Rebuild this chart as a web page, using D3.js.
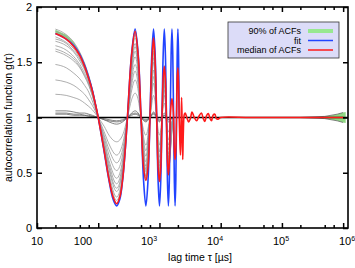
<!DOCTYPE html>
<html>
<head>
<meta charset="utf-8">
<script src="https://cdn.jsdelivr.net/npm/d3@7"></script>
<style>
  body { margin: 0; background: #fff; }
  text { font-family: "Liberation Sans", Arial, sans-serif; }
</style>
</head>
<body>
<div id="chart"></div>
<script>
// lag times (µs) at which the single ACFs are sampled
var lags = [20, 30, 40, 50, 60, 70, 80, 100, 125, 150, 200, 250, 300, 350, 400, 450, 500, 600, 700, 800, 1000, 1200, 1400, 1700, 2200];

// single ACFs (grey), one row per measurement
var acfs = [
  [1.80, 1.75, 1.68, 1.59, 1.49, 1.38, 1.26, 1.00, 0.70, 0.45, 0.22, 0.45, 1.00, 1.55, 1.78, 1.55, 1.00, 0.43, 1.00, 1.70, 0.42, 1.47, 0.53, 1.00, 1.00],
  [1.78, 1.73, 1.66, 1.58, 1.48, 1.37, 1.25, 1.00, 0.71, 0.47, 0.25, 0.47, 1.00, 1.53, 1.75, 1.53, 1.00, 0.45, 1.00, 1.68, 0.45, 1.45, 0.55, 1.00, 1.00],
  [1.73, 1.68, 1.62, 1.54, 1.45, 1.35, 1.24, 1.00, 0.72, 0.49, 0.28, 0.49, 1.00, 1.51, 1.72, 1.51, 1.00, 0.47, 1.00, 1.65, 0.47, 1.43, 0.57, 1.00, 1.00],
  [1.71, 1.67, 1.60, 1.53, 1.44, 1.34, 1.23, 1.00, 0.74, 0.53, 0.33, 0.53, 1.00, 1.47, 1.67, 1.47, 1.00, 0.51, 1.00, 1.60, 0.50, 1.40, 0.60, 1.00, 1.00],
  [1.69, 1.65, 1.59, 1.51, 1.43, 1.33, 1.22, 1.00, 0.75, 0.55, 0.36, 0.55, 1.00, 1.45, 1.64, 1.45, 1.00, 0.53, 1.00, 1.58, 0.53, 1.38, 0.62, 1.00, 1.00],
  [1.65, 1.61, 1.55, 1.48, 1.40, 1.31, 1.21, 1.00, 0.77, 0.58, 0.40, 0.58, 1.00, 1.42, 1.60, 1.42, 1.00, 0.56, 1.00, 1.54, 0.56, 1.36, 0.64, 1.00, 1.00],
  [1.62, 1.58, 1.53, 1.46, 1.38, 1.30, 1.20, 1.00, 0.79, 0.61, 0.45, 0.61, 1.00, 1.39, 1.55, 1.39, 1.00, 0.60, 1.00, 1.50, 0.59, 1.33, 0.67, 1.00, 1.00],
  [1.60, 1.56, 1.51, 1.45, 1.37, 1.29, 1.20, 1.00, 0.82, 0.66, 0.52, 0.66, 1.00, 1.34, 1.48, 1.34, 1.00, 0.65, 1.00, 1.43, 0.64, 1.29, 0.71, 1.00, 1.00],
  [1.48, 1.45, 1.40, 1.35, 1.29, 1.23, 1.15, 1.00, 0.84, 0.71, 0.59, 0.71, 1.00, 1.29, 1.42, 1.29, 1.00, 0.70, 1.00, 1.37, 0.69, 1.25, 0.75, 1.00, 1.00],
  [1.34, 1.32, 1.29, 1.25, 1.21, 1.16, 1.11, 1.00, 0.87, 0.76, 0.66, 0.76, 1.00, 1.24, 1.34, 1.24, 1.00, 0.75, 1.00, 1.31, 0.75, 1.20, 0.80, 1.00, 1.00],
  [1.21, 1.20, 1.18, 1.16, 1.13, 1.10, 1.07, 1.00, 0.92, 0.84, 0.78, 0.84, 1.00, 1.16, 1.22, 1.16, 1.00, 0.84, 1.00, 1.20, 0.84, 1.13, 0.87, 1.00, 1.00],
  [1.06, 1.06, 1.05, 1.04, 1.04, 1.03, 1.02, 1.00, 0.98, 0.96, 0.94, 0.96, 1.00, 1.04, 1.06, 1.04, 1.00, 0.96, 1.00, 1.05, 0.96, 1.04, 0.96, 1.00, 1.00],
  [1.04, 1.04, 1.03, 1.03, 1.02, 1.02, 1.01, 1.00, 0.98, 0.97, 0.96, 0.97, 1.00, 1.03, 1.04, 1.03, 1.00, 0.97, 1.00, 1.04, 0.97, 1.02, 0.98, 1.00, 1.00],
  [1.03, 1.03, 1.02, 1.02, 1.02, 1.01, 1.01, 1.00, 0.99, 0.98, 0.97, 0.98, 1.00, 1.02, 1.03, 1.02, 1.00, 0.98, 1.00, 1.03, 0.98, 1.02, 0.98, 1.00, 1.00]
];

// noisy tails of the ACFs at very long lag times
var tailTau = [200000, 500000, 800000, 1000000];
var tailHi = [1.00, 1.01, 1.03, 1.045];
var tailLo = [1.00, 0.99, 0.97, 0.955];

// fit
var fitTau = [20, 30, 40, 50, 60, 70, 80, 90, 100, 125, 150, 175, 200, 225, 250, 275, 300,
  350, 400, 450, 500, 550, 600, 650, 700, 750, 800, 850, 900, 950, 1000, 1050, 1100,
  1150, 1200, 1250, 1300, 1350, 1400, 1450, 1500, 1550, 1600, 1650, 1700, 1750, 1800, 1850, 1900,
  1950, 2000, 2050, 2100];
var fitG = [1.76, 1.71, 1.65, 1.57, 1.47, 1.36, 1.25, 1.12, 1.00, 0.69, 0.43, 0.26, 0.20, 0.26, 0.43, 0.69, 1.00,
  1.57, 1.80, 1.57, 1.00, 0.43, 0.20, 0.43, 1.00, 1.57, 1.80, 1.57, 1.00, 0.43, 0.20, 0.43, 1.00,
  1.57, 1.80, 1.57, 1.00, 0.43, 0.20, 0.43, 1.00, 1.57, 1.80, 1.57, 1.00, 0.43, 0.20, 0.43, 1.00,
  1.57, 1.80, 1.57, 1.00];

// median of the ACFs
var medTau = [20, 30, 40, 50, 60, 70, 80, 90, 100, 125, 150, 175, 200, 225, 250, 275, 300,
  350, 400, 450, 500, 550, 600, 650, 700, 750, 800, 850, 900, 950, 1000, 1050, 1100,
  1150, 1200, 1250, 1300, 1350, 1400, 1450, 1500, 1550, 1600, 1650, 1700, 1750, 1800, 1850, 1900,
  1950, 2000, 2050, 2100, 2150, 2200, 2250, 2300, 2350, 2400, 2450,
  2550, 2630, 2800, 3000, 3200, 3400, 3700, 4050, 4400, 4840, 5200, 5520, 5900, 6280, 6700, 7080,
  7500, 8030, 8500, 9050, 10000, 30000, 100000, 300000, 1000000];
var medG = [1.76, 1.71, 1.64, 1.56, 1.46, 1.35, 1.24, 1.12, 1.00, 0.70, 0.44, 0.28, 0.22, 0.28, 0.44, 0.70, 1.00,
  1.56, 1.78, 1.55, 1.00, 0.55, 0.43, 0.55, 1.00, 1.50, 1.72, 1.50, 1.00, 0.55, 0.42, 0.55, 1.00,
  1.35, 1.46, 1.35, 1.00, 0.60, 0.48, 0.60, 1.00, 1.12, 1.17, 1.12, 1.00, 0.70, 0.62, 0.70, 1.00,
  1.35, 1.45, 1.30, 1.00, 0.80, 0.66, 0.90, 1.18, 0.90, 0.62, 0.85,
  1.03, 1.04, 1.00, 0.96, 0.99, 1.05, 1.00, 0.97, 1.01, 1.04, 0.99, 0.965, 1.02, 1.035, 0.99, 0.97,
  1.02, 1.03, 0.99, 0.985, 1.00, 1.00, 1.00, 1.00, 1.00];

// 90% band of the ACFs
var bandTau = [20, 30, 40, 50, 60, 70, 80, 90, 100, 200000, 400000, 600000, 800000, 1000000, 1100000];
var bandLo = [1.765, 1.72, 1.655, 1.57, 1.47, 1.36, 1.245, 1.12, 1.00, 1.00, 0.995, 0.985, 0.97, 0.955, 0.95];
var bandHi = [1.795, 1.75, 1.68, 1.59, 1.49, 1.38, 1.26, 1.13, 1.00, 1.00, 1.005, 1.015, 1.03, 1.045, 1.05];

var xMajor = [10, 100, 1e3, 1e4, 1e5, 1e6];
var xMinorFactors = [2, 5, 7];
var yTicks = [0, 0.5, 1, 1.5, 2];
var legendLabels = ["90% of ACFs", "fit", "median of ACFs"];
var legendColors = ["#98e890", "#2244ff", "#ff1a1a"];

var width = 355, height = 268;
var svg = d3.select("#chart").append("svg")
  .attr("width", width).attr("height", height);

var x = d3.scaleLog().domain([10, 1.2e6]).range([37, 348]);
var y = d3.scaleLinear().domain([0, 2]).range([228, 7]);
// tick labels sit a bit left of their ticks in the original
var xLab = d3.scaleLog().domain([100, 1e6]).range([83, 347]);

svg.append("clipPath").attr("id", "clip")
  .append("rect")
  .attr("x", x.range()[0]).attr("y", y.range()[1])
  .attr("width", x.range()[1] - x.range()[0])
  .attr("height", y.range()[0] - y.range()[1]);

var plot = svg.append("g").attr("clip-path", "url(#clip)");

var line = d3.line()
  .x(function (d) { return x(d[0]); })
  .y(function (d) { return y(d[1]); });

// band
var band = d3.area()
  .x(function (d) { return x(d[0]); })
  .y0(function (d) { return y(d[1]); })
  .y1(function (d) { return y(d[2]); });
plot.append("path")
  .datum(bandTau.map(function (t, i) { return [t, bandLo[i], bandHi[i]]; }))
  .attr("d", band)
  .attr("fill", "#8fd883");

// grey ACFs
var greyLine = line.curve(d3.curveMonotoneX);
plot.selectAll("path.acf")
  .data(acfs)
  .enter()
  .append("path")
  .attr("class", "acf")
  .attr("d", function (row) {
    return greyLine(lags.map(function (t, i) { return [t, row[i]]; }));
  })
  .attr("fill", "none")
  .attr("stroke", function (row, i) { return i > 10 ? "#666" : "#999"; })
  .attr("stroke-width", 0.8);

[tailHi, tailLo].forEach(function (tail) {
  plot.append("path")
    .attr("d", d3.line().x(function (d) { return x(d[0]); }).y(function (d) { return y(d[1]); })
      (tailTau.map(function (t, i) { return [t, tail[i]]; })))
    .attr("fill", "none")
    .attr("stroke", "#666")
    .attr("stroke-width", 0.8);
});

// g = 1 reference line
plot.append("line")
  .attr("x1", x.range()[0]).attr("x2", x.range()[1])
  .attr("y1", y(1)).attr("y2", y(1))
  .attr("stroke", "#000").attr("stroke-width", 1.5);

var smooth = d3.line()
  .x(function (d) { return x(d[0]); })
  .y(function (d) { return y(d[1]); })
  .curve(d3.curveCatmullRom.alpha(0.5));

plot.append("path")
  .attr("d", smooth(fitTau.map(function (t, i) { return [t, fitG[i]]; })))
  .attr("fill", "none").attr("stroke", legendColors[1]).attr("stroke-width", 1.6);

plot.append("path")
  .attr("d", smooth(medTau.map(function (t, i) { return [t, medG[i]]; })))
  .attr("fill", "none").attr("stroke", legendColors[2]).attr("stroke-width", 1.6);

// axes (ticks pointing inwards, mirrored)
var xMinor = [];
xMajor.slice(0, -1).forEach(function (d) {
  xMinorFactors.forEach(function (f) { xMinor.push(d * f); });
});

function styleAxis(g) {
  g.select(".domain").remove();
  g.selectAll("line").attr("stroke", "#000").attr("stroke-width", 1.5);
}

svg.append("g").attr("transform", "translate(0," + y.range()[0] + ")")
  .call(d3.axisBottom(x).tickValues(xMajor).tickSize(-5).tickFormat(""))
  .call(styleAxis);
svg.append("g").attr("transform", "translate(0," + y.range()[0] + ")")
  .call(d3.axisBottom(x).tickValues(xMinor).tickSize(-3).tickFormat(""))
  .call(styleAxis);
svg.append("g").attr("transform", "translate(0," + y.range()[1] + ")")
  .call(d3.axisTop(x).tickValues(xMajor).tickSize(-5).tickFormat(""))
  .call(styleAxis);
svg.append("g").attr("transform", "translate(0," + y.range()[1] + ")")
  .call(d3.axisTop(x).tickValues(xMinor).tickSize(-3).tickFormat(""))
  .call(styleAxis);

var yAxis = svg.append("g").attr("transform", "translate(" + x.range()[0] + ",0)")
  .call(d3.axisLeft(y).tickValues(yTicks).tickSize(-5).tickPadding(5).tickFormat(d3.format("")))
  .call(styleAxis);
yAxis.selectAll("text").attr("font-size", 11).attr("fill", "#000")
  .style("font-family", "'Liberation Sans', Arial, sans-serif");
svg.append("g").attr("transform", "translate(" + x.range()[1] + ",0)")
  .call(d3.axisRight(y).tickValues(yTicks).tickSize(-5).tickFormat(""))
  .call(styleAxis);

// frame
svg.append("rect")
  .attr("x", x.range()[0]).attr("y", y.range()[1])
  .attr("width", x.range()[1] - x.range()[0])
  .attr("height", y.range()[0] - y.range()[1])
  .attr("fill", "none").attr("stroke", "#000").attr("stroke-width", 1.6);

// x tick labels
var xl = svg.selectAll("text.xl")
  .data(xMajor)
  .enter()
  .append("text")
  .attr("class", "xl")
  .attr("x", function (d) { return d < 100 ? x(d) : xLab(d); })
  .attr("y", 245)
  .attr("text-anchor", "middle")
  .attr("font-size", 11);
xl.each(function (d) {
  var t = d3.select(this);
  var e = Math.round(Math.log10(d));
  if (e <= 2) {
    t.text(String(d));
  } else {
    t.append("tspan").text("10");
    t.append("tspan").attr("dy", -4).attr("font-size", 7).text(e);
  }
});

svg.append("text")
  .attr("x", 200).attr("y", 261)
  .attr("text-anchor", "middle")
  .attr("font-size", 10.5)
  .text("lag time τ [µs]");

svg.append("text")
  .attr("transform", "translate(12," + y(1) + ")rotate(-90)")
  .attr("text-anchor", "middle")
  .attr("font-size", 10.5)
  .text("autocorrelation function g(τ)");

// legend
var lg = svg.append("g").attr("transform", "translate(228,22)");
lg.append("rect")
  .attr("width", 111).attr("height", 36)
  .attr("fill", "#dcdcf8").attr("stroke", "#333").attr("stroke-width", 0.8);
var item = lg.selectAll("g.item")
  .data(legendLabels)
  .enter()
  .append("g")
  .attr("class", "item")
  .attr("transform", function (d, i) { return "translate(0," + (9 + i * 9.5) + ")"; });
item.append("text")
  .attr("x", 73).attr("y", 3.2)
  .attr("text-anchor", "end")
  .attr("font-size", 9)
  .text(function (d) { return d; });
item.append("line")
  .attr("x1", 80).attr("x2", 105)
  .attr("stroke", function (d, i) { return legendColors[i]; })
  .attr("stroke-width", function (d, i) { return i === 0 ? 4 : 1.5; });
</script>
</body>
</html>
